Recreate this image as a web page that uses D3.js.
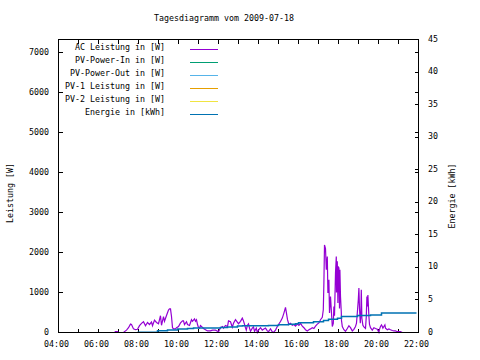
<!DOCTYPE html>
<html>
<head>
<meta charset="utf-8">
<script src="https://cdn.jsdelivr.net/npm/d3@7"></script>
<style>
html,body{margin:0;padding:0;background:#fff;}
svg{display:block;}
text{font-family:"DejaVu Sans Mono","Liberation Mono",monospace;font-size:8.3px;fill:#000;}
</style>
</head>
<body>
<svg id="chart" width="480" height="360"></svg>
<script>
// ---------- data ----------
const title = "Tagesdiagramm vom 2009-07-18";
const yLabel = "Leistung [W]";
const y2Label = "Energie [kWh]";
const xTickLabels = ["04:00","06:00","08:00","10:00","12:00","14:00","16:00","18:00","20:00","22:00"];
const yTicks = [0,1000,2000,3000,4000,5000,6000,7000];
const y2Ticks = [0,5,10,15,20,25,30,35,40,45];
const seriesNames = ["AC Leistung in [W]","PV-Power-In in [W]","PV-Power-Out in [W]","PV-1 Leistung in [W]","PV-2 Leistung in [W]","Energie in [kWh]"];
const seriesColors = ["#9400d3","#009e73","#56b4e9","#e69f00","#f0e442","#0072b2"];

// AC power: time (hours) and watts
const acTime = [6.80,6.85,6.95,7.00,7.25,7.40,7.50,7.60,7.65,7.75,7.85,7.95,8.05,8.15,8.25,8.35,8.45,8.55,8.65,8.70,8.80,8.90,9.00,9.10,9.15,9.25,9.30,9.40,9.50,9.55,9.60,9.65,9.70,9.75,9.85,9.90,10.00,10.10,10.20,10.25,10.30,10.40,10.45,10.55,10.65,10.70,10.80,10.85,10.90,10.95,11.00,11.05,11.10,11.20,11.25,11.35,11.45,11.60,11.70,11.85,12.00,12.10,12.20,12.25,12.35,12.45,12.50,12.60,12.69,12.75,12.85,12.94,13.00,13.10,13.19,13.25,13.35,13.39,13.44,13.50,13.55,13.60,13.69,13.75,13.80,13.89,13.94,14.00,14.10,14.19,14.25,14.35,14.44,14.50,14.60,14.69,14.75,14.85,14.94,15.00,15.10,15.19,15.27,15.35,15.40,15.45,15.52,15.60,15.69,15.77,15.85,15.94,16.02,16.10,16.19,16.27,16.35,16.44,16.52,16.60,16.69,16.77,16.85,16.94,17.02,17.10,17.19,17.24,17.27,17.30,17.35,17.39,17.44,17.47,17.52,17.55,17.60,17.69,17.74,17.77,17.80,17.85,17.89,17.90,17.94,17.97,17.99,18.02,18.05,18.07,18.10,18.14,18.15,18.19,18.27,18.35,18.44,18.52,18.60,18.69,18.77,18.85,18.90,18.94,18.99,19.02,19.05,19.09,19.12,19.14,19.17,19.22,19.27,19.35,19.39,19.42,19.45,19.47,19.52,19.55,19.60,19.69,19.77,19.85,19.94,20.02,20.05,20.10,20.15,20.19,20.22,20.27,20.32,20.35,20.44,20.52,20.60,20.69,20.77,20.85,20.94,21.02,21.10,21.19,21.27];
const acPower = [0,20,20,0,0,60,120,210,200,90,70,80,170,230,270,170,250,200,260,170,310,250,220,420,180,400,280,425,560,590,590,400,120,90,90,120,150,240,290,290,200,270,200,175,320,280,340,280,320,200,125,110,175,130,100,70,40,40,60,60,20,120,150,110,175,150,290,270,130,230,320,260,220,280,360,290,120,60,175,215,110,30,110,140,30,110,0,60,120,60,80,110,40,20,90,20,0,60,150,200,275,360,485,630,480,320,200,230,180,200,160,210,180,230,160,120,70,40,70,90,120,100,160,210,240,320,380,570,1240,2190,2100,1570,1900,990,1320,490,900,150,230,650,420,1490,1900,1000,1780,740,1650,1610,600,1570,900,500,300,150,70,30,100,170,120,40,80,150,235,485,820,1110,600,235,525,1070,350,180,140,100,400,900,650,940,400,200,120,60,120,100,80,0,80,150,190,150,110,150,190,110,70,90,70,50,40,40,20,20,20,0,0];

// Other power series (not visible in the reference)
const pvInTime = [], pvInPower = [];
const pvOutTime = [], pvOutPower = [];
const pv1Time = [], pv1Power = [];
const pv2Time = [], pv2Power = [];

// Daily energy (kWh), step series
const energyTime = [7.95,8.95,9.45,9.95,10.45,10.75,11.60,12.10,12.45,12.95,13.20,14.20,14.50,15.00,15.50,15.85,16.00,16.75,17.25,17.50,17.95,18.15,18.95,19.60,20.15,21.90];
const energyKWh = [0.05,0.25,0.40,0.55,0.60,0.68,0.70,0.75,0.85,0.98,1.03,1.03,1.08,1.18,1.28,1.33,1.50,1.65,1.84,2.05,2.20,2.45,2.60,2.70,2.98,2.98];

// ---------- chart ----------
const svg = d3.select("#chart");
const L = 58.5, R = 418.5, T = 39.5, B = 332.5;

const x = d3.scaleLinear().domain([4,22]).range([L,R]);
const y = d3.scaleLinear().domain([0,7330]).range([B,T]);
const y2 = d3.scaleLinear().domain([0,45]).range([B,T]);

const hourTicks = d3.range(4,23,1);
const tk = 4;

// axes with inward ticks
const axG = svg.append("g").attr("shape-rendering","crispEdges").attr("stroke","#000").attr("stroke-width",1);
// bottom / top ticks
hourTicks.forEach(h=>{
  const px = Math.round(x(h))+0.5 - 0.5;
  axG.append("line").attr("x1",x(h)).attr("x2",x(h)).attr("y1",B).attr("y2",B-tk);
  axG.append("line").attr("x1",x(h)).attr("x2",x(h)).attr("y1",T).attr("y2",T+tk);
});
// left ticks + mirrored on right
yTicks.forEach(v=>{
  axG.append("line").attr("x1",L).attr("x2",L+tk).attr("y1",y(v)).attr("y2",y(v));
  axG.append("line").attr("x1",R).attr("x2",R-tk).attr("y1",y(v)).attr("y2",y(v));
});
// right y2 ticks
y2Ticks.forEach(v=>{
  axG.append("line").attr("x1",R).attr("x2",R-tk).attr("y1",y2(v)).attr("y2",y2(v));
});

// tick labels
const xlab = svg.append("g");
xTickLabels.forEach(s=>{
  const [hh,mm] = s.split(":").map(Number);
  xlab.append("text").attr("x",x(hh+mm/60)-2).attr("y",347).attr("text-anchor","middle").text(s);
});
yTicks.forEach(v=>{
  svg.append("text").attr("x",49).attr("y",y(v)+2).attr("text-anchor","end").text(v);
});
y2Ticks.forEach(v=>{
  svg.append("text").attr("x",428).attr("y",y2(v)+2).attr("text-anchor","start").text(v);
});

// axis titles
svg.append("text").attr("transform","translate(12.5,193) rotate(-90)").attr("text-anchor","middle").text(yLabel);
svg.append("text").attr("transform","translate(455,196) rotate(-90)").attr("text-anchor","middle").text(y2Label);
svg.append("text").attr("x",224).attr("y",21).attr("text-anchor","middle").text(title);

// data lines
const powerLine = d3.line().x(d=>x(d[0])).y(d=>y(d[1]));
const energyLine = d3.line().x(d=>x(d[0])).y(d=>y2(d[1])).curve(d3.curveStepAfter);
const powerSeries = [
  [acTime,acPower],[pvInTime,pvInPower],[pvOutTime,pvOutPower],[pv1Time,pv1Power],[pv2Time,pv2Power]
];
const plotG = svg.append("g");
powerSeries.forEach((s,i)=>{
  const pts = s[0].map((t,j)=>[t,s[1][j]]);
  if(pts.length) plotG.append("path").attr("d",powerLine(pts)).attr("fill","none")
    .attr("stroke",seriesColors[i]).attr("stroke-width",1.2).attr("stroke-linejoin","miter");
});
const ePts = energyTime.map((t,j)=>[t,energyKWh[j]]);
plotG.append("path").attr("d",energyLine(ePts)).attr("fill","none")
  .attr("stroke",seriesColors[5]).attr("stroke-width",1.5);

// border
svg.append("rect").attr("x",L).attr("y",T).attr("width",R-L).attr("height",B-T)
  .attr("fill","none").attr("stroke","#000").attr("stroke-width",1).attr("shape-rendering","crispEdges");

// legend
const lg = svg.append("g");
seriesNames.forEach((n,i)=>{
  const yy = 49 + i*13;
  lg.append("text").attr("x",165).attr("y",yy+1).attr("text-anchor","end").text(n);
  lg.append("line").attr("x1",190).attr("x2",218).attr("y1",yy+0.5).attr("y2",yy+0.5)
    .attr("stroke",seriesColors[i]).attr("stroke-width",1).attr("shape-rendering","crispEdges");
});
</script>
</body>
</html>
